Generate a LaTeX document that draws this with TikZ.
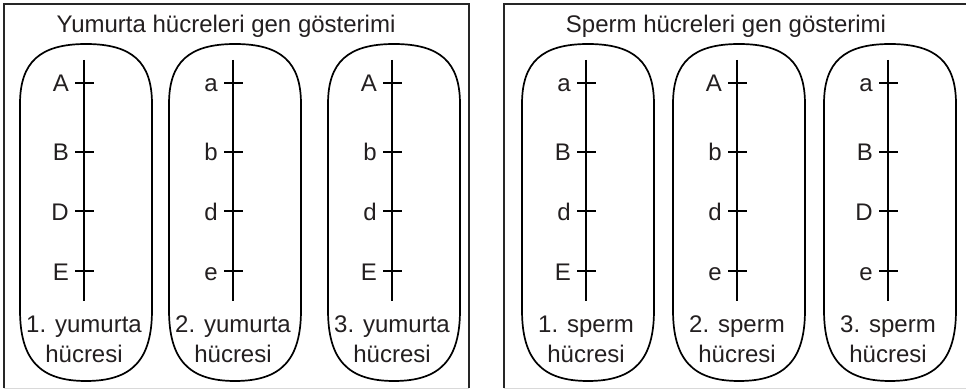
\documentclass[tikz,border=0pt]{standalone}
\usepackage{fontspec}
\setmainfont{Liberation Sans}
\usetikzlibrary{positioning}
\definecolor{ink}{HTML}{231F20}
\tikzset{
  gene/.style={anchor=base east, inner sep=0pt, text=ink},
  cellname/.style={anchor=base, inner sep=0pt, text=ink},
  head/.style={anchor=base, inner sep=0pt, text=ink},
  frame/.style={line width=2pt, black!85},
  wall/.style={line width=1.7pt, black},
  chrom/.style={line width=1.5pt, black}
}

\begin{document}
\begin{tikzpicture}[x=1pt, y=-1pt, font=\fontsize{24}{28}\selectfont]
\useasboundingbox (0,0) rectangle (966,390);
% frames
\draw[frame] (4,388) -- (4,4) -- (469,4) -- (469,388);
\draw[frame] (504,388) -- (504,4) -- (966,4);
\draw[black!15, line width=1pt] (4,388.5) -- (469,388.5) (504,388.5) -- (966,388.5);
% titles
\node[head] (headL) at (226,33) {Yumurta hücreleri gen gösterimi};
\node[head] (headR) at (726,33) {Sperm hücreleri gen gösterimi};
% cells: chromosome with genes
\foreach \id/\cx/\ga/\gb/\gd/\ge/\num/\kind in {
    L1/84/A/B/D/E/1/yumurta, L2/233/a/b/d/e/2/yumurta, L3/392/A/b/d/E/3/yumurta,
    R1/586/a/B/d/E/1/sperm, R2/737/A/b/d/e/2/sperm, R3/888/a/B/D/e/3/sperm}{
  \draw[wall] (\cx-64,104) -- (\cx-64,310)
    .. controls (\cx-64,360) and (\cx-44,381) .. (\cx+2,381)
    .. controls (\cx+48,381) and (\cx+68,360) .. (\cx+68,310)
    -- (\cx+68,104)
    .. controls (\cx+68,62) and (\cx+48,44) .. (\cx+2,44)
    .. controls (\cx-44,44) and (\cx-64,62) .. (\cx-64,104) -- cycle;
  \draw[chrom] (\cx,60) -- (\cx,301);
  \foreach \g/\y in {\ga/83, \gb/152, \gd/211, \ge/271}{
    \draw[chrom] (\cx-9,\y) -- (\cx+10,\y);
    \node[gene] (\id-\y) at (\cx-15,\y+9) {\g};
  }
  \node[cellname] (\id-n) at (\cx,332) {\num. \kind};
  \node[cellname] (\id-h) at (\cx,362) {hücresi};
}
\end{tikzpicture}
\end{document}
